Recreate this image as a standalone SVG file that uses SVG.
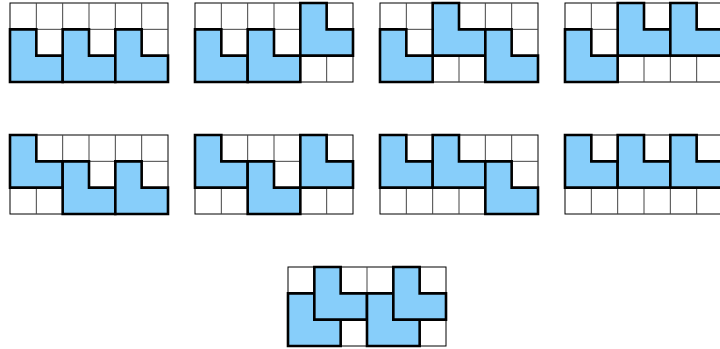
<svg xmlns="http://www.w3.org/2000/svg" xmlns:xlink="http://www.w3.org/1999/xlink" width="720" height="349" viewBox="0 0 720 349">
<style>
.bg{fill:#ffffff;stroke:#000;stroke-width:1}
.gl{stroke:#444;stroke-width:1;fill:none}
.L{fill:#87CEFA;stroke:#000;stroke-width:2.6;stroke-linejoin:miter}
</style>
<defs>
<g id="grid">
<rect class="bg" x="0" y="0" width="158" height="79"/>
<path class="gl" d="M26.33,0V79M52.67,0V79M79,0V79M105.33,0V79M131.67,0V79M0,26.33H158M0,52.67H158"/>
</g>
<path id="L" class="L" d="M0,0H26.33V26.33H52.67V52.67H0Z"/>
</defs>
<rect width="720" height="349" fill="#fff"/>
<g id="grid1" transform="translate(10,3)">
<use href="#grid"/>
<use href="#L" x="0" y="26.33"/><use href="#L" x="52.67" y="26.33"/><use href="#L" x="105.33" y="26.33"/>
</g>
<g id="grid2" transform="translate(195,3)">
<use href="#grid"/>
<use href="#L" x="0" y="26.33"/><use href="#L" x="52.67" y="26.33"/><use href="#L" x="105.33" y="0"/>
</g>
<g id="grid3" transform="translate(380,3)">
<use href="#grid"/>
<use href="#L" x="0" y="26.33"/><use href="#L" x="52.67" y="0"/><use href="#L" x="105.33" y="26.33"/>
</g>
<g id="grid4" transform="translate(565,3)">
<use href="#grid"/>
<use href="#L" x="0" y="26.33"/><use href="#L" x="52.67" y="0"/><use href="#L" x="105.33" y="0"/>
</g>
<g id="grid5" transform="translate(10,135)">
<use href="#grid"/>
<use href="#L" x="0" y="0"/><use href="#L" x="52.67" y="26.33"/><use href="#L" x="105.33" y="26.33"/>
</g>
<g id="grid6" transform="translate(195,135)">
<use href="#grid"/>
<use href="#L" x="0" y="0"/><use href="#L" x="52.67" y="26.33"/><use href="#L" x="105.33" y="0"/>
</g>
<g id="grid7" transform="translate(380,135)">
<use href="#grid"/>
<use href="#L" x="0" y="0"/><use href="#L" x="52.67" y="0"/><use href="#L" x="105.33" y="26.33"/>
</g>
<g id="grid8" transform="translate(565,135)">
<use href="#grid"/>
<use href="#L" x="0" y="0"/><use href="#L" x="52.67" y="0"/><use href="#L" x="105.33" y="0"/>
</g>
<g id="grid9" transform="translate(288,267)">
<use href="#grid"/>
<use href="#L" x="0" y="26.33"/><use href="#L" x="26.33" y="0"/><use href="#L" x="79" y="26.33"/><use href="#L" x="105.33" y="0"/>
</g>
<g id="connectors"/>
</svg>
